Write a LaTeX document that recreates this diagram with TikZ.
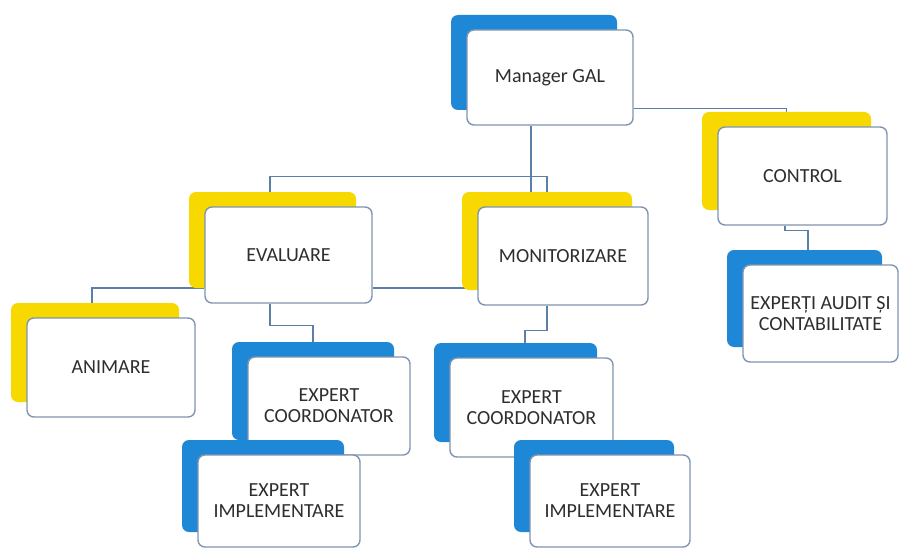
\documentclass[tikz,border=0pt]{standalone}
\usepackage{fontspec}
\setmainfont{Carlito}
\usetikzlibrary{shadows,backgrounds}
\definecolor{shblue}{HTML}{1F88D6}
\definecolor{shyel}{HTML}{F7D900}
\definecolor{bord}{HTML}{7F95B0}
\definecolor{conn}{HTML}{5B7FA6}
\definecolor{txt}{HTML}{2E2E2E}
\tikzset{
  box/.style={draw=bord, line width=1.4pt, fill=white, rounded corners=7pt,
    align=center, text=txt, font=\fontsize{20}{21}\selectfont, inner sep=0pt},
  blueshadow/.style={general shadow={fill=shblue, draw=none, shadow xshift=-16pt, shadow yshift=15pt}},
  yelshadow/.style={general shadow={fill=shyel, draw=none, shadow xshift=-16pt, shadow yshift=15pt}},
  link/.style={draw=conn, line width=1.4pt},
}
\begin{document}
\begin{tikzpicture}[x=1pt,y=-1pt]
\useasboundingbox (0,0) rectangle (901,548);
\begin{scope}[on background layer]
  \fill[white] (0,0) rectangle (901,548);
\end{scope}

\node[box, blueshadow, minimum width=166pt, minimum height=95pt] (mgr) at (550,77.5) {Manager GAL};
\node[box, yelshadow, minimum width=169pt, minimum height=98pt] (ctrl) at (802.5,176) {CONTROL};
\node[box, yelshadow, minimum width=167pt, minimum height=96pt] (eval) at (288.5,255) {EVALUARE};
\node[box, yelshadow, minimum width=170pt, minimum height=98pt] (mon) at (563,256) {MONITORIZARE};
\node[box, yelshadow, minimum width=168pt, minimum height=99pt] (anim) at (111,367.5) {ANIMARE};
\node[box, blueshadow, minimum width=162pt, minimum height=98pt] (coord1) at (329,406) {EXPERT\\COORDONATOR};
\node[box, blueshadow, minimum width=162pt, minimum height=92pt] (impl1) at (279,501) {EXPERT\\IMPLEMENTARE};
\node[box, blueshadow, minimum width=163pt, minimum height=99pt] (coord2) at (531.5,407.5) {EXPERT\\COORDONATOR};
\node[box, blueshadow, minimum width=160pt, minimum height=92pt] (impl2) at (610,501) {EXPERT\\IMPLEMENTARE};
\node[box, blueshadow, minimum width=155pt, minimum height=97pt] (audit) at (820.5,313.5) {EXPERȚI AUDIT ȘI\\CONTABILITATE};

\begin{scope}[on background layer]
  \draw[link] ([yshift=17pt]mgr.south east) -| ([xshift=69pt]ctrl.north west);
  \draw[link] ([xshift=-19pt]mgr.south) -- ([xshift=-19pt]mgr.south |- mon.north);
  \draw[link] ([xshift=-18.5pt]eval.north) -- ++(0,-30) -| ([xshift=-16pt]mon.north);
  \draw[link] ([xshift=-19pt]anim.north) |- ([yshift=-33pt]eval.west);
  \draw[link] ([yshift=-33pt]eval.east) -- ([yshift=-33pt]eval.east -| mon.west);
  \draw[link] ([xshift=-18.5pt]eval.south) -- ++(0,22) -| ([xshift=-16pt]coord1.north);
  \draw[link] ([xshift=-16pt]mon.south) -- ++(0,25) -| ([xshift=-6.5pt]coord2.north);
  \draw[link] ([xshift=-17.5pt]ctrl.south) -- ++(0,5) -| ([xshift=-12.5pt]audit.north);
\end{scope}
\end{tikzpicture}
\end{document}
